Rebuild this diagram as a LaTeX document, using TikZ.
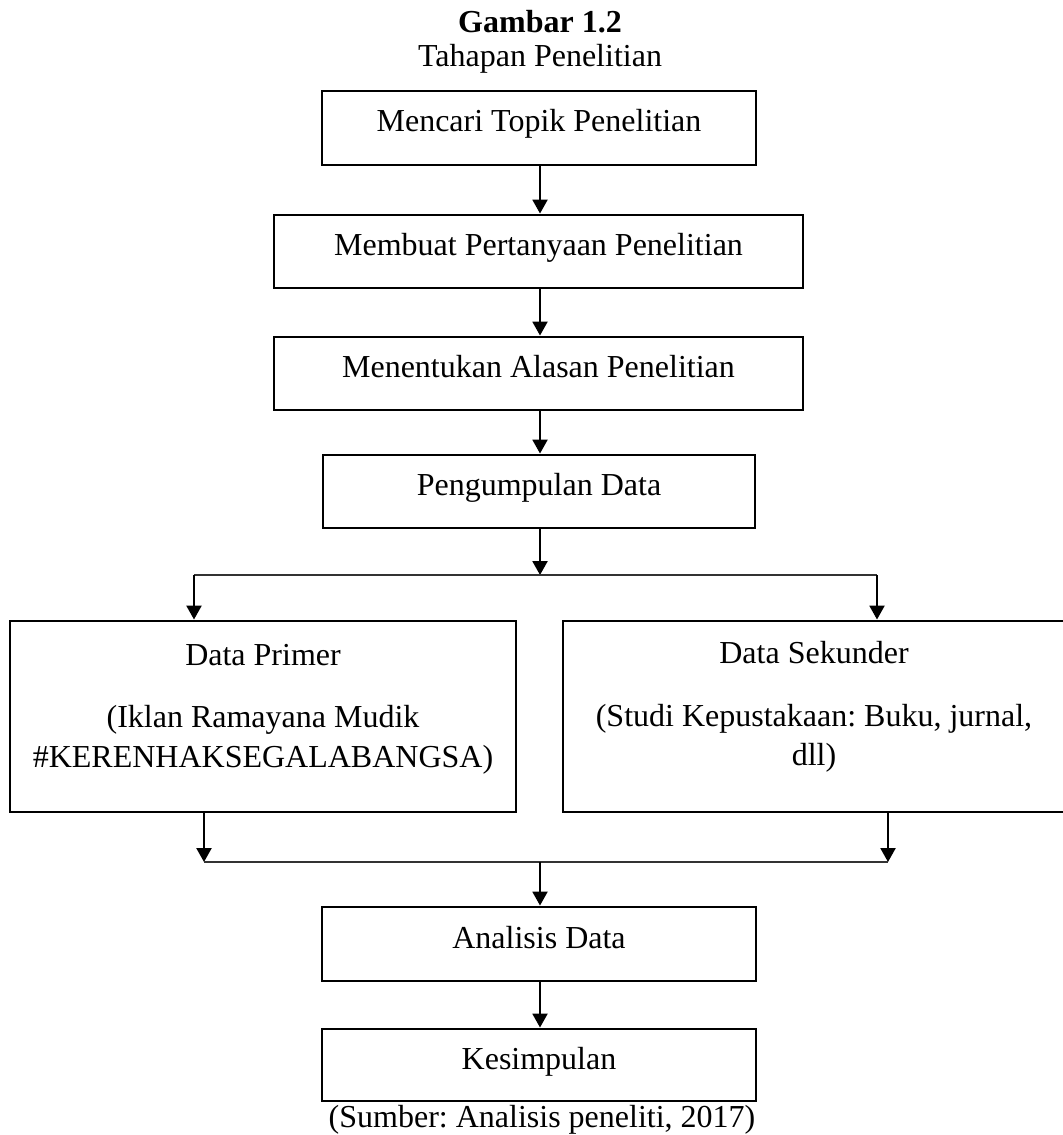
\documentclass[tikz,border=0pt]{standalone}
\usepackage{fontspec}
\setmainfont{Liberation Serif}
\usetikzlibrary{arrows.meta}
\def\pxu{0.375pt}
\frenchspacing
\begin{document}
\begin{tikzpicture}[x=0.375pt,y=-0.375pt,
  font=\fontsize{12}{15}\selectfont,
  box/.style={draw, line width=1.1pt, inner sep=0pt, text height=9pt, text depth=6pt},
  bigbox/.style={draw, line width=1.1pt, inner sep=0pt},
  txt/.style={anchor=base, inner sep=0pt},
  arr/.style={line width=0.8pt, -{Triangle[length=5.2pt,width=5.6pt]}},
  thin/.style={line width=0.5pt, draw=black!80}]
\useasboundingbox (0,0) rectangle (1062,1135);

% title
\node[txt, font=\fontsize{12}{15}\selectfont\bfseries] (title) at (540,33) {Gambar 1.2};
\node[txt] (subtitle) at (540,67) {Tahapan Penelitian};

% boxes
\node[box, minimum width=434*\pxu, minimum height=74*\pxu] (b1) at (539,128) {Mencari Topik Penelitian};
\node[box, minimum width=529*\pxu, minimum height=73*\pxu] (b2) at (538.5,251.5) {Membuat Pertanyaan Penelitian};
\node[box, minimum width=529*\pxu, minimum height=73*\pxu] (b3) at (538.5,373.5) {Menentukan Alasan Penelitian};
\node[box, minimum width=432*\pxu, minimum height=73*\pxu] (b4) at (539,491.5) {Pengumpulan Data};

\node[bigbox, minimum width=506*\pxu, minimum height=191*\pxu] (left) at (263,716.5) {};
\node[bigbox, minimum width=503*\pxu, minimum height=191*\pxu] (right) at (814.5,716.5) {};

\node[txt] (l1) at (263,665) {Data Primer};
\node[txt] (l2) at (263,727) {(Iklan Ramayana Mudik};
\node[txt] (l3) at (263,767) {\#KERENHAKSEGALABANGSA)};
\node[txt] (r1) at (814,663) {Data Sekunder};
\node[txt] (r2) at (814,726) {(Studi Kepustakaan: Buku, jurnal,};
\node[txt] (r3) at (814,765) {dll)};

\node[box, minimum width=434*\pxu, minimum height=74*\pxu] (b5) at (539,944) {Analisis Data};
\node[box, minimum width=434*\pxu, minimum height=72*\pxu] (b6) at (539,1065) {Kesimpulan};

\node[txt] (src) at (542,1127) {(Sumber: Analisis peneliti, 2017)};

% connectors
\coordinate (j0) at (540,575);
\coordinate (jl) at (194,575);
\coordinate (jr) at (877,575);
\coordinate (kl) at (204,862);
\coordinate (kr) at (888,862);
\coordinate (k0) at (540,862);

\draw[arr] (540,0 |- b1.south) -- (540,0 |- b2.north);
\draw[arr] (540,0 |- b2.south) -- (540,0 |- b3.north);
\draw[arr] (540,0 |- b3.south) -- (540,0 |- b4.north);
\draw[arr] (j0 |- b4.south) -- (j0);
\draw[thin] (jl) -- (jr);
\draw[arr] (jl) -- (jl |- left.north);
\draw[arr] (jr) -- (jr |- right.north);
\draw[arr] (kl |- left.south) -- (kl);
\draw[arr] (kr |- right.south) -- (kr);
\draw[thin] (kl) -- (kr);
\draw[arr] (k0) -- (k0 |- b5.north);
\draw[arr] (k0 |- b5.south) -- (k0 |- b6.north);
\end{tikzpicture}
\end{document}
